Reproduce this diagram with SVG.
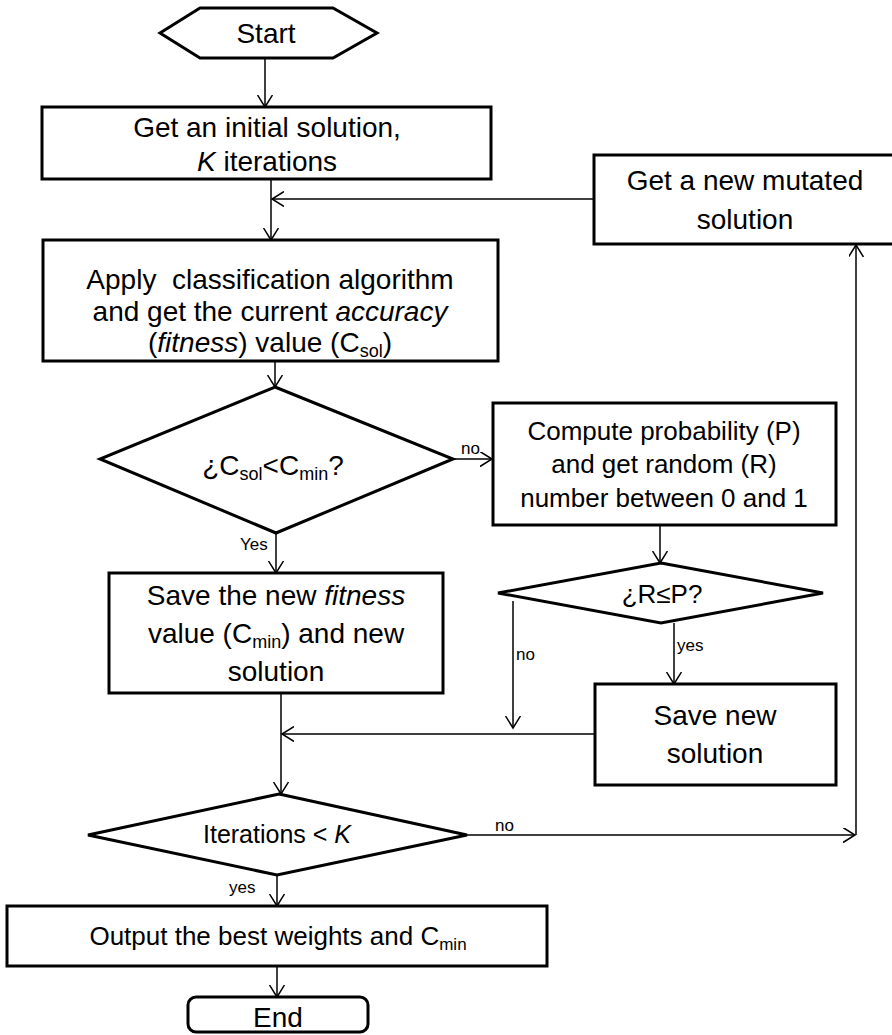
<svg xmlns="http://www.w3.org/2000/svg" width="892" height="1035" viewBox="0 0 892 1035">
<style>
  .node { fill: #ffffff; stroke: #000000; stroke-width: 3; stroke-linejoin: miter; }
  .t { font-family: "Liberation Sans", Arial, sans-serif; fill: #000000; text-anchor: middle; }
  .m { font-size: 28px; }
  .s { font-size: 26px; }
  .lbl { font-family: "Liberation Sans", Arial, sans-serif; font-size: 17px; fill: #000000; }
  .conn { fill: none; stroke: #000000; stroke-width: 1.5; marker-end: url(#arr); }
</style>
<defs>
  <marker id="arr" markerUnits="userSpaceOnUse" markerWidth="14" markerHeight="16" refX="12" refY="7.5" orient="auto">
    <path d="M0,0 L12,7.5 L0,15" fill="none" stroke="#000000" stroke-width="1.5"/>
  </marker>
</defs>
<rect x="0" y="0" width="892" height="1035" fill="#ffffff"/>

<g id="connectors">
  <path class="conn" d="M265,58 V107"/>
  <path class="conn" d="M271,179 V240"/>
  <path class="conn" d="M594,199 H272"/>
  <path class="conn" d="M275,361 V387"/>
  <path class="conn" d="M453,459 H492"/>
  <path class="conn" d="M276,533 V573"/>
  <path class="conn" d="M660,525 V563"/>
  <path class="conn" d="M513,601 V728"/>
  <path class="conn" d="M674,623 V684"/>
  <path class="conn" d="M595,734 H282"/>
  <path class="conn" d="M281,693 V794"/>
  <path class="conn" d="M467,835 H855"/>
  <path class="conn" d="M856,835 V245"/>
  <path class="conn" d="M277,875 V906"/>
  <path class="conn" d="M277,966 V997"/>
  <text class="lbl" x="461" y="454">no</text>
  <text class="lbl" x="240" y="550">Yes</text>
  <text class="lbl" x="516" y="660">no</text>
  <text class="lbl" x="677" y="651">yes</text>
  <text class="lbl" x="495" y="831">no</text>
  <text class="lbl" x="229" y="893">yes</text>
</g>

<g id="start">
  <polygon class="node" points="160,33 200,8 333,8 377,33 333,58 200,58"/>
  <text class="t m" x="266" y="43">Start</text>
</g>

<g id="init">
  <rect class="node" x="42" y="107" width="449" height="72"/>
  <text class="t m" x="267" y="137">Get an initial solution,</text>
  <text class="t m" x="267" y="171"><tspan font-style="italic">K</tspan> iterations</text>
</g>

<g id="mutate">
  <rect class="node" x="594" y="155" width="303" height="89"/>
  <text class="t m" x="745" y="190">Get a new mutated</text>
  <text class="t m" x="745" y="229">solution</text>
</g>

<g id="classify">
  <rect class="node" x="43" y="240" width="455" height="121"/>
  <text class="t m" x="270" y="289" xml:space="preserve">Apply  classification algorithm</text>
  <text class="t m" x="270" y="321">and get the current <tspan font-style="italic">accuracy</tspan></text>
  <text class="t m" x="270" y="352">(<tspan font-style="italic">fitness</tspan>) value (C<tspan font-size="18" dy="5">sol</tspan><tspan dy="-5">)</tspan></text>
</g>

<g id="decision-cmin">
  <polygon class="node" points="275,387 453,459 276,533 100,459"/>
  <text class="t m" x="273" y="475">¿C<tspan font-size="18" dy="5">sol</tspan><tspan dy="-5">&lt;C</tspan><tspan font-size="18" dy="5">min</tspan><tspan dy="-5">?</tspan></text>
</g>

<g id="compute">
  <rect class="node" x="493" y="403" width="343" height="122"/>
  <text class="t s" x="664" y="440">Compute probability (P)</text>
  <text class="t s" x="664" y="473">and get random (R)</text>
  <text class="t s" x="664" y="507">number between 0 and 1</text>
</g>

<g id="decision-rp">
  <polygon class="node" points="661,563 823,593 661,623 498,593"/>
  <text class="t s" x="662" y="603">¿R≤P?</text>
</g>

<g id="save-fitness">
  <rect class="node" x="109" y="573" width="334" height="120"/>
  <text class="t m" x="276" y="605">Save the new <tspan font-style="italic">fitness</tspan></text>
  <text class="t m" x="276" y="643">value (C<tspan font-size="18" dy="5">min</tspan><tspan dy="-5">) and new</tspan></text>
  <text class="t m" x="276" y="681">solution</text>
</g>

<g id="save-new">
  <rect class="node" x="595" y="684" width="241" height="101"/>
  <text class="t m" x="715" y="725">Save new</text>
  <text class="t m" x="715" y="763">solution</text>
</g>

<g id="decision-iter">
  <polygon class="node" points="279,794 467,835 277,875 88,835"/>
  <text class="t" font-size="25" x="277" y="843">Iterations &lt; <tspan font-style="italic">K</tspan></text>
</g>

<g id="output">
  <rect class="node" x="7" y="906" width="540" height="60"/>
  <text class="t s" x="278" y="945">Output the best weights and C<tspan font-size="17" dy="5">min</tspan></text>
</g>

<g id="end">
  <rect class="node" x="188" y="997" width="180" height="35" rx="8" ry="8"/>
  <text class="t m" x="278" y="1027">End</text>
</g>
</svg>
